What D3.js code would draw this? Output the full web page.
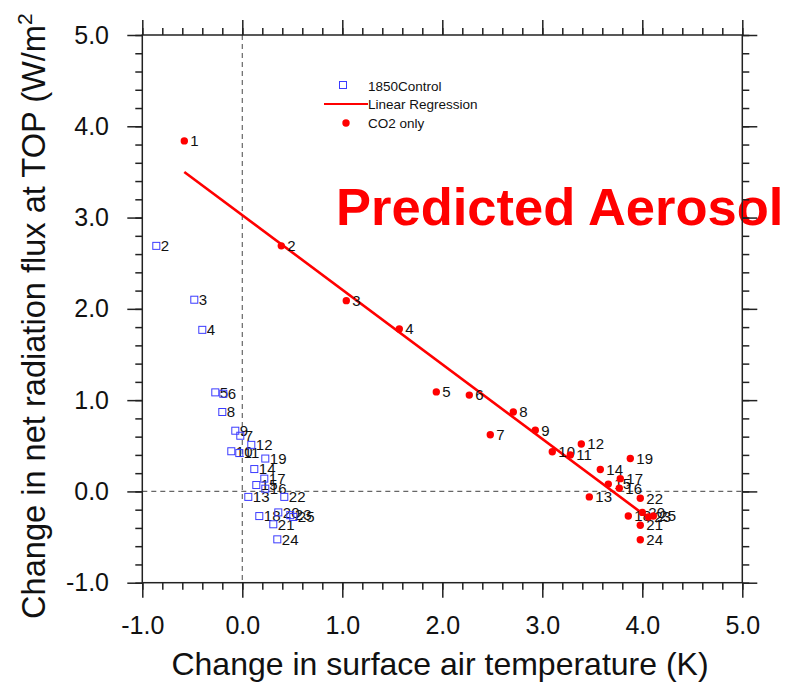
<!DOCTYPE html>
<html>
<head>
<meta charset="utf-8">
<script src="https://cdn.jsdelivr.net/npm/d3@7"></script>
<style>
  html, body { margin: 0; padding: 0; background: #fff; }
  svg { display: block; font-family: "Liberation Sans", Arial, Helvetica, sans-serif; }
</style>
</head>
<body>
<svg id="chart" width="788" height="687"></svg>
<script>
// ---- data ----
const ctrlLabels = ["2","3","4","5","6","7","8","9","10","11","12","13","14","15","16","17","18","19","20","21","22","23","24","25"];
const ctrlX = [-0.86,-0.48,-0.40,-0.27,-0.19,-0.02,-0.20,-0.07,-0.11,-0.03,0.09,0.06,0.12,0.14,0.23,0.22,0.17,0.23,0.36,0.31,0.42,0.48,0.35,0.51];
const ctrlY = [2.69,2.10,1.77,1.085,1.07,0.61,0.87,0.665,0.44,0.42,0.51,-0.06,0.245,0.07,0.03,0.14,-0.27,0.36,-0.23,-0.36,-0.06,-0.26,-0.525,-0.28];

const co2Labels = ["1","2","3","4","5","6","7","8","9","10","11","12","13","14","15","16","17","18","19","20","21","22","23","24","25"];
const co2X = [-0.58,0.39,1.04,1.57,1.94,2.27,2.48,2.71,2.93,3.10,3.28,3.39,3.47,3.58,3.66,3.77,3.78,3.86,3.88,4.00,3.98,3.98,4.06,3.98,4.11];
const co2Y = [3.84,2.69,2.09,1.78,1.09,1.055,0.62,0.87,0.67,0.435,0.40,0.52,-0.06,0.24,0.08,0.035,0.14,-0.27,0.36,-0.23,-0.37,-0.075,-0.28,-0.53,-0.27];

const regX = [-0.58, 4.06];
const regY = [3.50, -0.29];

const xMajor = [-1,0,1,2,3,4,5];
const yMajor = [-1,0,1,2,3,4,5];
const xMinor = d3.range(-1, 5.0001, 0.2).map(v => +v.toFixed(1));
const yMinor = d3.range(-1, 5.0001, 0.2).map(v => +v.toFixed(1));

const legendLabels = ["1850Control", "Linear Regression", "CO2 only"];
const xTitle = "Change in surface air temperature (K)";
const yTitle = "Change in net radiation flux at TOP (W/m";
const overlayText = "Predicted Aerosol";

// ---- layout ----
const L = 142.3, R = 742.3, T = 35, B = 582.7;
const svg = d3.select("#chart");
const x = d3.scaleLinear().domain([-1, 5]).range([L, R]);
const y = d3.scaleLinear().domain([-1, 5]).range([B, T]);
const axisColor = "#222";
const fmt = d => d.toFixed(1);

// zero reference lines
svg.append("line").attr("x1", L).attr("x2", R).attr("y1", y(0)).attr("y2", y(0))
  .attr("stroke", "#666").attr("stroke-width", 1.2).attr("stroke-dasharray", "5,4");
svg.append("line").attr("x1", x(0)).attr("x2", x(0)).attr("y1", T).attr("y2", B)
  .attr("stroke", "#666").attr("stroke-width", 1.2).attr("stroke-dasharray", "5,4");

// regression line
svg.append("line")
  .attr("x1", x(regX[0])).attr("y1", y(regY[0]))
  .attr("x2", x(regX[1])).attr("y2", y(regY[1]))
  .attr("stroke", "#ff0000").attr("stroke-width", 2.6);

const ctrl = ctrlX.map((v, i) => ({x: v, y: ctrlY[i], l: ctrlLabels[i]}));
const co2 = co2X.map((v, i) => ({x: v, y: co2Y[i], l: co2Labels[i]}));

const labelFont = 15;
svg.append("g").selectAll("text").data(ctrl).join("text")
  .attr("x", d => x(d.x) + 4.5).attr("y", d => y(d.y) + 5.3)
  .attr("font-size", labelFont).attr("fill", "#111").text(d => d.l);
svg.append("g").selectAll("rect").data(ctrl).join("rect")
  .attr("x", d => x(d.x) - 3.5).attr("y", d => y(d.y) - 3.5)
  .attr("width", 7).attr("height", 7)
  .attr("fill", "none").attr("stroke", "#3b3bff").attr("stroke-width", 1);

svg.append("g").selectAll("text").data(co2).join("text")
  .attr("x", d => x(d.x) + 6).attr("y", d => y(d.y) + 5.3)
  .attr("font-size", labelFont).attr("fill", "#111").text(d => d.l);
svg.append("g").selectAll("circle").data(co2).join("circle")
  .attr("cx", d => x(d.x)).attr("cy", d => y(d.y)).attr("r", 3.7)
  .attr("fill", "#ff0000");

// legend
const lg = svg.append("g");
lg.append("rect").attr("x", 339.5).attr("y", 81.5).attr("width", 7).attr("height", 7)
  .attr("fill", "none").attr("stroke", "#3b3bff").attr("stroke-width", 1);
lg.append("line").attr("x1", 324).attr("x2", 368).attr("y1", 104).attr("y2", 104)
  .attr("stroke", "#ff0000").attr("stroke-width", 2);
lg.append("circle").attr("cx", 346).attr("cy", 123).attr("r", 3.7).attr("fill", "#ff0000");
lg.selectAll("text").data(legendLabels).join("text")
  .attr("x", 368).attr("y", (d, i) => 90.5 + i * 18.7)
  .attr("font-size", 13.5).attr("fill", "#111").text(d => d);

// overlay title
svg.append("text").attr("x", 336).attr("y", 225)
  .attr("font-size", 52.5).attr("font-weight", "bold").attr("fill", "#ff0000")
  .text(overlayText);

// axes (all four sides, ticks outward)
function styleAxis(g) {
  g.select(".domain").remove();
  g.selectAll(".tick line").attr("stroke", axisColor).attr("stroke-width", 1.5);
  g.selectAll(".tick text").attr("fill", "#111").attr("font-size", 25)
    .attr("font-family", '"Liberation Sans", Arial, sans-serif');
}
const none = () => "";
svg.append("g").attr("transform", `translate(0,${B})`)
  .call(d3.axisBottom(x).tickValues(xMinor).tickSize(7).tickFormat(none)).call(styleAxis);
svg.append("g").attr("transform", `translate(0,${B})`)
  .call(d3.axisBottom(x).tickValues(xMajor).tickSize(15).tickPadding(18.5).tickFormat(fmt)).call(styleAxis);
svg.append("g").attr("transform", `translate(0,${T})`)
  .call(d3.axisTop(x).tickValues(xMinor).tickSize(7).tickFormat(none)).call(styleAxis);
svg.append("g").attr("transform", `translate(0,${T})`)
  .call(d3.axisTop(x).tickValues(xMajor).tickSize(15).tickFormat(none)).call(styleAxis);
svg.append("g").attr("transform", `translate(${L},0)`)
  .call(d3.axisLeft(y).tickValues(yMinor).tickSize(7).tickFormat(none)).call(styleAxis);
svg.append("g").attr("transform", `translate(${L},0)`)
  .call(d3.axisLeft(y).tickValues(yMajor).tickSize(15).tickPadding(18.3).tickFormat(fmt)).call(styleAxis);
svg.append("g").attr("transform", `translate(${R},0)`)
  .call(d3.axisRight(y).tickValues(yMinor).tickSize(7).tickFormat(none)).call(styleAxis);
svg.append("g").attr("transform", `translate(${R},0)`)
  .call(d3.axisRight(y).tickValues(yMajor).tickSize(15).tickFormat(none)).call(styleAxis);

// frame
svg.append("rect").attr("x", L).attr("y", T).attr("width", R - L).attr("height", B - T)
  .attr("fill", "none").attr("stroke", axisColor).attr("stroke-width", 1.5);

// axis titles
svg.append("text").attr("x", (168 + 712) / 2).attr("y", 675)
  .attr("text-anchor", "middle").attr("font-size", 32).attr("fill", "#111").text(xTitle);
const yt = svg.append("text").attr("transform", "translate(45,619) rotate(-90)")
  .attr("text-anchor", "start").attr("font-size", 32.6).attr("fill", "#111");
yt.append("tspan").text(yTitle);
yt.append("tspan").attr("font-size", 21).attr("dy", -13).text("2");
</script>
</body>
</html>
